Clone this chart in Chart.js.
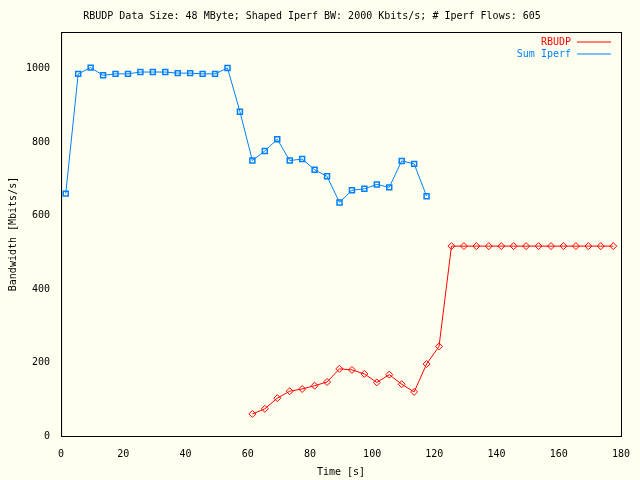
<!DOCTYPE html>
<html>
<head>
<meta charset="utf-8">
<script src="https://cdn.jsdelivr.net/npm/chart.js@4"></script>
<style>
  body { margin: 0; background: #fffff0; }
  #wrap { width: 640px; height: 480px; }
</style>
</head>
<body>
<div id="wrap"><canvas id="c"></canvas></div>
<script>
// data
const iperfTime = [1.5, 5.5, 9.5, 13.5, 17.5, 21.5, 25.5, 29.5, 33.5, 37.5, 41.5, 45.5, 49.5, 53.5, 57.5,
  61.5, 65.5, 69.5, 73.5, 77.5, 81.5, 85.5, 89.5, 93.5, 97.5, 101.5, 105.5, 109.5, 113.5, 117.5];
const iperfBw = [660, 986, 1003, 982, 986, 986, 991, 991, 991, 988, 988, 986, 986, 1002, 883,
  750, 776, 808, 750, 754, 725, 707, 636, 669, 673, 685, 677, 749, 741, 653];
const rbudpTime = [61.5, 65.5, 69.5, 73.5, 77.5, 81.5, 85.5, 89.5, 93.5, 97.5, 101.5, 105.5, 109.5, 113.5,
  117.5, 121.5, 125.5, 129.5, 133.5, 137.5, 141.5, 145.5, 149.5, 153.5, 157.5, 161.5, 165.5, 169.5, 173.5, 177.5];
const rbudpBw = [60, 74, 103, 122, 128, 137, 147, 183, 180, 169, 146, 167, 141, 120,
  196, 244, 517, 517, 517, 517, 517, 517, 517, 517, 517, 517, 517, 517, 517, 517];

const font = { family: 'DejaVu Sans Mono', size: 10 };
const toPts = (xs, ys) => xs.map((x, i) => ({ x: x, y: ys[i] }));

// gnuplot-like frame, legend and x label
const gpPlugin = {
  id: 'gpLegend',
  afterDraw(chart) {
    const ctx = chart.ctx;
    const a = chart.chartArea;
    ctx.save();
    ctx.strokeStyle = '#000';
    ctx.lineWidth = 1;
    ctx.strokeRect(a.left + 0.5, a.top + 0.5, a.right - a.left, a.bottom - a.top);
    ctx.font = '10px "DejaVu Sans Mono"';
    ctx.textBaseline = 'middle';
    ctx.textAlign = 'center';
    ctx.fillStyle = '#000';
    ctx.fillText('Time [s]', (a.left + a.right) / 2, 472);
    ctx.textAlign = 'right';
    chart.data.datasets.forEach((ds, i) => {
      const y = a.top + 10 + i * 12;
      ctx.fillStyle = ds.borderColor;
      ctx.fillText(ds.label, a.right - 50, y);
      ctx.strokeStyle = ds.borderColor;
      ctx.beginPath();
      ctx.moveTo(a.right - 44, y); ctx.lineTo(a.right - 10, y);
      ctx.stroke();
    });
    ctx.restore();
  }
};

new Chart(document.getElementById('c'), {
  type: 'scatter',
  data: {
    datasets: [{
      label: 'RBUDP',
      data: toPts(rbudpTime, rbudpBw),
      showLine: true,
      borderColor: '#ff0000',
      backgroundColor: 'rgba(0,0,0,0)',
      borderWidth: 1,
      pointStyle: 'rectRot',
      pointRadius: 3.5,
      pointBorderWidth: 1
    }, {
      label: 'Sum Iperf',
      data: toPts(iperfTime, iperfBw),
      showLine: true,
      borderColor: '#0080ff',
      backgroundColor: 'rgba(0,0,0,0)',
      borderWidth: 1,
      pointStyle: 'rect',
      pointRadius: 3.5,
      pointBorderWidth: 1.5
    }]
  },
  options: {
    responsive: true,
    maintainAspectRatio: false,
    animation: false,
    layout: { padding: { top: 4, right: 19, left: 3, bottom: 16 } },
    scales: {
      x: {
        min: 0, max: 180,
        ticks: { stepSize: 20, color: '#000', font: font, maxRotation: 0, padding: 4 },
        grid: { display: false },
        border: { color: '#000' }
      },
      y: {
        min: 0, max: 1100,
        afterBuildTicks: axis => { axis.ticks = axis.ticks.filter(t => t.value <= 1000); },
        ticks: { stepSize: 200, color: '#000', font: font, callback: v => String(v) },
        grid: { display: false },
        border: { color: '#000' },
        title: { display: true, text: 'Bandwidth [Mbits/s]', color: '#000', font: font }
      }
    },
    plugins: {
      legend: { display: false },
      tooltip: { enabled: false },
      title: {
        display: true,
        text: 'RBUDP Data Size: 48 MByte; Shaped Iperf BW: 2000 Kbits/s; # Iperf Flows: 605',
        color: '#000',
        font: { family: 'DejaVu Sans Mono', size: 10, weight: 'normal' },
        padding: { top: 6, bottom: 10 }
      }
    }
  },
  plugins: [gpPlugin]
});
</script>
</body>
</html>
